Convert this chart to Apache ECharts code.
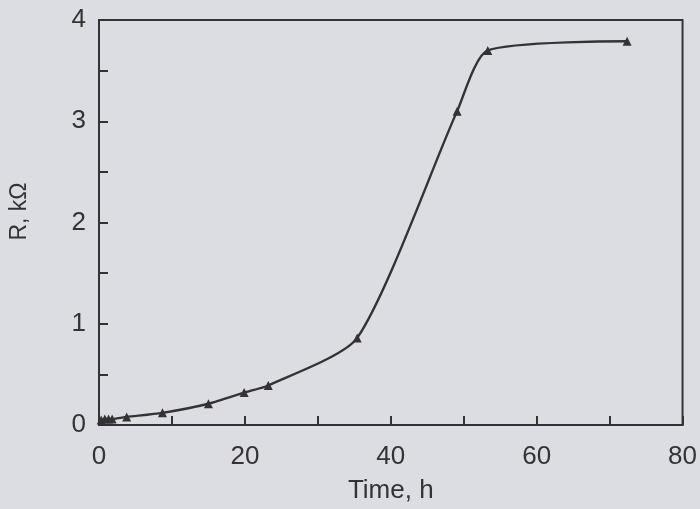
<!DOCTYPE html>
<html>
<head>
<meta charset="utf-8">
<script src="https://cdn.jsdelivr.net/npm/echarts@6/dist/echarts.min.js"></script>
<style>
html,body{margin:0;padding:0;background:#dcdde2;}
#c{width:700px;height:509px;}
</style>
</head>
<body>
<div id="c"></div>
<script>
var timeH = [0.3, 0.8, 1.3, 1.8, 3.8, 8.7, 15.0, 19.9, 23.2, 35.4, 49.1, 53.3, 72.4];
var resistanceK = [0.05, 0.06, 0.06, 0.06, 0.08, 0.12, 0.21, 0.32, 0.39, 0.86, 3.10, 3.70, 3.79];
var xTicks = [0, 20, 40, 60, 80];
var yTicks = [0, 1, 2, 3, 4];

var ink = '#333336';
var font = 'Liberation Sans, Arial, sans-serif';
var chart = echarts.init(document.getElementById('c'));
chart.setOption({
  backgroundColor: '#dcdde2',
  animation: false,
  grid: {left: 96, right: 17, top: 20, bottom: 80, show: true, borderColor: ink, borderWidth: 2, backgroundColor: 'transparent'},
  xAxis: {
    type: 'value', min: xTicks[0], max: xTicks[xTicks.length - 1], interval: 20,
    name: 'Time, h', nameLocation: 'middle', nameGap: 53,
    nameTextStyle: {fontFamily: font, fontSize: 26, color: ink},
    axisLine: {show: true, lineStyle: {color: ink, width: 2}},
    axisTick: {show: true, inside: true, length: 9, lineStyle: {color: ink, width: 2}},
    minorTick: {show: true, splitNumber: 2, length: 9, lineStyle: {color: ink, width: 2}},
    axisLabel: {fontFamily: font, fontSize: 26, color: ink, margin: 19},
    splitLine: {show: false}
  },
  yAxis: {
    type: 'value', min: yTicks[0], max: yTicks[yTicks.length - 1], interval: 1,
    name: 'R, kΩ', nameLocation: 'middle', nameGap: 68, nameRotate: 90,
    nameTextStyle: {fontFamily: font, fontSize: 23, color: ink, padding: [0, 0, 0, 22]},
    axisLine: {show: true, lineStyle: {color: ink, width: 2}},
    axisTick: {show: true, inside: true, length: 9, lineStyle: {color: ink, width: 2}},
    minorTick: {show: true, splitNumber: 2, length: 9, lineStyle: {color: ink, width: 2}},
    axisLabel: {fontFamily: font, fontSize: 26, color: ink, margin: 13},
    splitLine: {show: false}
  },
  series: [{
    type: 'line',
    data: timeH.map(function (t, i) { return [t, resistanceK[i]]; }),
    smooth: 0.22,
    symbol: 'triangle', symbolSize: 9,
    itemStyle: {color: ink},
    lineStyle: {color: ink, width: 2.4}
  }]
});
</script>
</body>
</html>
